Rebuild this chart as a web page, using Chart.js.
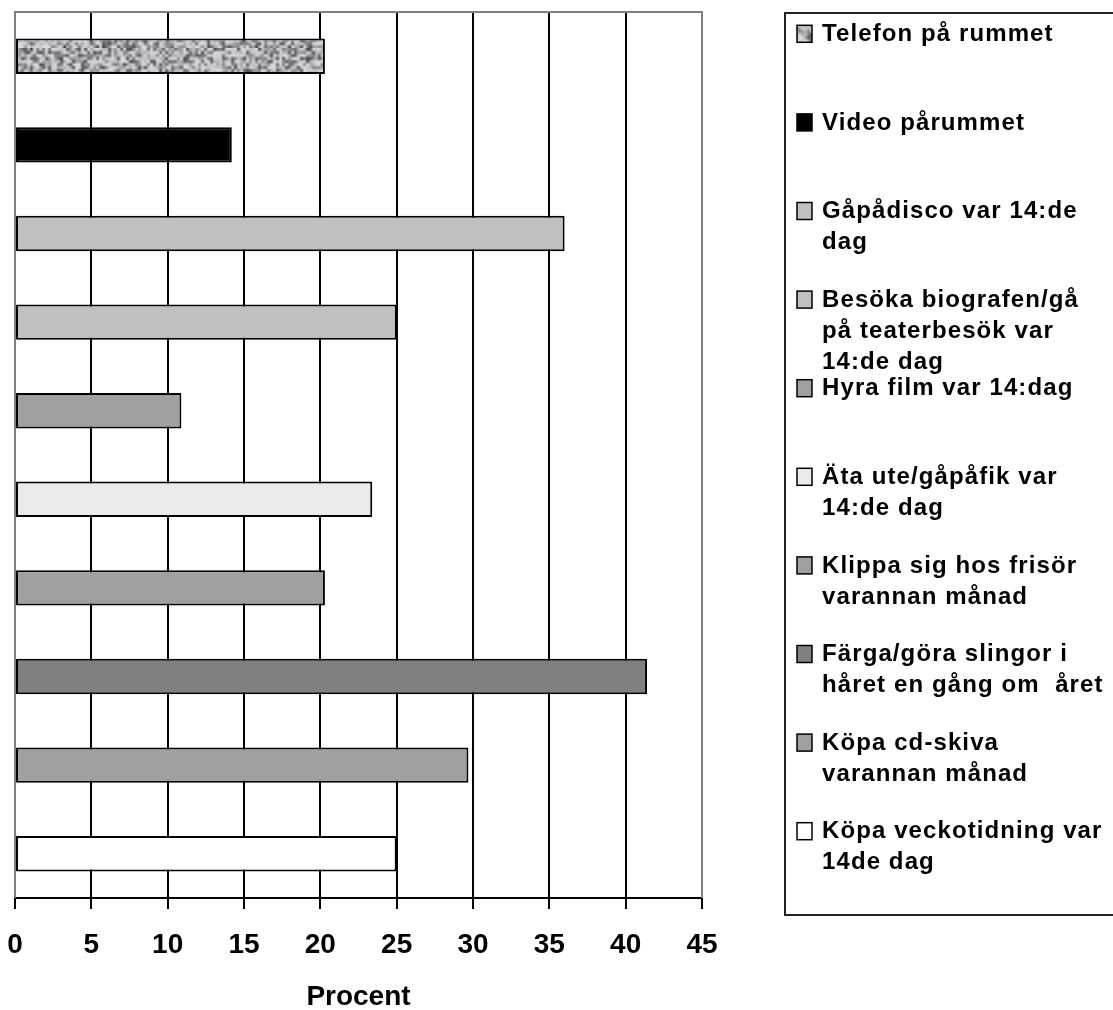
<!DOCTYPE html>
<html>
<head>
<meta charset="utf-8">
<script src="https://cdn.jsdelivr.net/npm/chart.js@4/dist/chart.umd.min.js"></script>
<style>
  html, body { margin: 0; padding: 0; background: #fff; }
  #wrap { width: 1113px; height: 1010px; position: relative; }
</style>
</head>
<body>
<div id="wrap"><canvas id="myBarChart"></canvas></div>
<script>
const categories = [
    ["Telefon på rummet"],
    ["Video pårummet"],
    ["Gåpådisco var 14:de", "dag"],
    ["Besöka biografen/gå", "på teaterbesök var", "14:de dag"],
    ["Hyra film var 14:dag"],
    ["Äta ute/gåpåfik var", "14:de dag"],
    ["Klippa sig hos frisör", "varannan månad"],
    ["Färga/göra slingor i", "håret en gång om  året"],
    ["Köpa cd-skiva", "varannan månad"],
    ["Köpa veckotidning var", "14de dag"]
];
const percentValues = [20.3, 14.2, 36.0, 25.0, 10.9, 23.4, 20.3, 41.4, 29.7, 25.0];
const xTicks = [0, 5, 10, 15, 20, 25, 30, 35, 40, 45];

// mottled gray texture for the first series (integer hash, no randomness)
function hash(x, y) {
    let h = Math.imul(x, 374761393) + Math.imul(y, 668265263);
    h = Math.imul(h ^ (h >>> 13), 1274126177);
    h = h ^ (h >>> 16);
    return (h >>> 0) / 4294967295;
}
function makeTexture() {
    const w = 120, h = 16, k = 3;
    const small = document.createElement('canvas');
    small.width = w; small.height = h;
    const sctx = small.getContext('2d');
    for (let y = 0; y < h; y++) {
        for (let x = 0; x < w; x++) {
            const v = hash(x + 7, y + 13);
            const g = Math.round(218 - 150 * Math.pow(v, 1.9));
            sctx.fillStyle = `rgb(${g},${g},${g + 5})`;
            sctx.fillRect(x, y, 1, 1);
        }
    }
    const big = document.createElement('canvas');
    big.width = w * k; big.height = h * k;
    const bctx = big.getContext('2d');
    bctx.imageSmoothingEnabled = true;
    bctx.drawImage(small, 0, 0, w * k, h * k);
    return bctx.createPattern(big, 'repeat');
}

const ctx = document.getElementById('myBarChart').getContext('2d');
const fills = [makeTexture(), '#000000', '#c0c0c0', '#c0c0c0', '#a0a0a0',
               '#eaeaea', '#a0a0a0', '#808080', '#a0a0a0', '#ffffff'];

const datasets = categories.map((name, i) => ({
    label: name.join(' '),
    data: categories.map((_, j) => j === i ? percentValues[i] : null),
    backgroundColor: fills[i],
    borderColor: '#000000',
    borderWidth: 2,
    borderSkipped: false,
    barPercentage: 0.4,
    categoryPercentage: 1.0,
    grouped: false
}));

// gray frame on top/left/right of the plot area
const frame = {
    id: 'frame',
    beforeDatasetsDraw(chart) {
        const { ctx, chartArea: a } = chart;
        ctx.save();
        ctx.strokeStyle = '#808080';
        ctx.lineWidth = 2;
        ctx.beginPath();
        ctx.moveTo(a.left, a.bottom);
        ctx.lineTo(a.left, a.top);
        ctx.lineTo(a.right, a.top);
        ctx.lineTo(a.right, a.bottom);
        ctx.stroke();
        ctx.restore();
    }
};

// legend box on the right, entries follow the category rows
const sideLegend = {
    id: 'sideLegend',
    afterDraw(chart) {
        const { ctx } = chart;
        const yScale = chart.scales.y;
        ctx.save();
        ctx.strokeStyle = '#222';
        ctx.lineWidth = 2;
        ctx.strokeRect(785, 13, 400, 902);
        ctx.font = 'bold 24px "Liberation Sans", Arial, sans-serif';
        ctx.letterSpacing = '1.1px';
        ctx.textBaseline = 'middle';
        categories.forEach((lines, i) => {
            const y = yScale.getPixelForValue(i) - 23;
            ctx.fillStyle = fills[i];
            ctx.fillRect(797, y - 8, 15, 17);
            ctx.strokeStyle = '#000';
            ctx.lineWidth = 1.5;
            ctx.strokeRect(797, y - 8, 15, 17);
            ctx.fillStyle = '#000';
            lines.forEach((t, k) => ctx.fillText(t, 822, y + 1 + k * 31));
        });
        ctx.restore();
    }
};

new Chart(ctx, {
    type: 'bar',
    data: { labels: categories, datasets: datasets },
    options: {
        indexAxis: 'y',
        responsive: true,
        maintainAspectRatio: false,
        animation: false,
        layout: { padding: { left: 15, top: 12, right: 411, bottom: 0 } },
        plugins: {
            legend: { display: false },
            tooltip: { enabled: false }
        },
        scales: {
            x: {
                min: 0,
                max: 45,
                afterBuildTicks: (scale) => { scale.ticks = xTicks.map(v => ({ value: v })); },
                afterFit: (scale) => {
                    scale.height = 112;
                    scale.paddingLeft = 0;
                    scale.paddingRight = 0;
                },
                grid: {
                    color: (c) => (c.index === 0 || c.index === xTicks.length - 1) ? '#808080' : '#000000',
                    lineWidth: 2,
                    tickColor: '#000000',
                    tickLength: 11
                },
                border: { color: '#000000', width: 2 },
                ticks: {
                    color: '#000',
                    padding: 19,
                    font: { family: '"Liberation Sans", Arial, sans-serif', size: 28, weight: 'bold' }
                },
                title: {
                    display: true,
                    text: 'Procent',
                    color: '#000',
                    padding: { top: 0, bottom: -4 },
                    font: { family: '"Liberation Sans", Arial, sans-serif', size: 28, weight: 'bold' }
                }
            },
            y: {
                display: false
            }
        }
    },
    plugins: [frame, sideLegend]
});
</script>
</body>
</html>
